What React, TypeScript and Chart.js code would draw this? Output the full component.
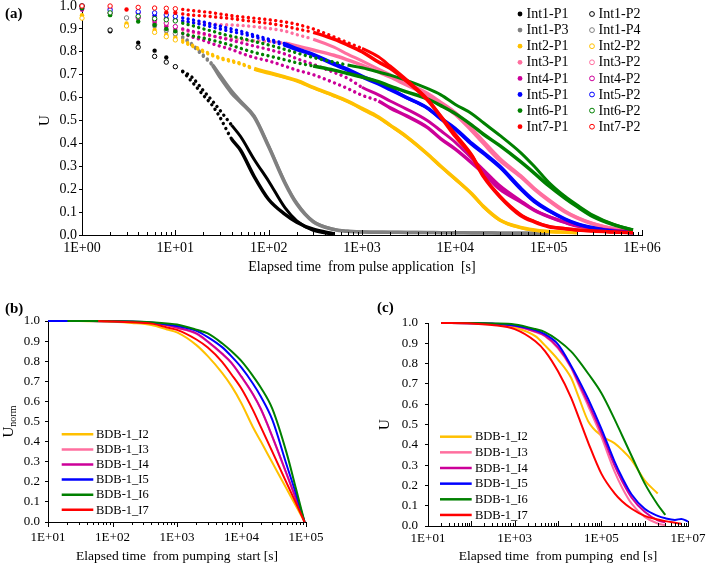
import React, { useEffect, useRef } from 'react';
import { Chart, registerables } from 'chart.js';

Chart.register(...registerables);

const FONT = "'Liberation Serif', 'Times New Roman', Times, serif";

// ================= Panel (a) data =================
const timesA = [1, 2, 3, 4, 6, 8, 10, 12, 15, 20, 25, 30, 40, 50, 70, 100, 150, 200, 300, 500, 700, 1000, 1500, 2000, 3000, 5000, 7000, 10000, 15000, 20000, 30000, 50000, 70000, 100000, 150000, 200000, 300000, 500000, 800000];

const int1P1 = [1.0, 0.89, null, 0.84, 0.805, 0.775, 0.735, 0.713, 0.67, 0.61, 0.565, 0.515, 0.42, 0.37, 0.255, 0.155, 0.09, 0.056, 0.025, 0.005, null, null, null, null, null, null, null, null, null, null, null, null, null, null, null, null, null, null, null];
const int1P2 = [1.0, 0.895, null, 0.82, 0.78, 0.755, 0.735, 0.715, 0.69, 0.63, 0.585, 0.545, 0.48, 0.43, 0.33, 0.235, 0.118, 0.062, 0.02, 0.004, null, null, null, null, null, null, null, null, null, null, null, null, null, null, null, null, null, null, null];
const int1P3 = [null, null, null, null, 0.91, 0.89, 0.875, 0.86, 0.83, 0.78, 0.74, 0.69, 0.62, 0.58, 0.515, 0.385, 0.225, 0.135, 0.058, 0.024, 0.016, 0.013, 0.012, 0.012, 0.011, 0.011, 0.01, 0.01, 0.009, 0.009, 0.008, 0.008, 0.008, 0.007, null, null, null, null, null];
const int1P4 = [null, null, 0.948, null, 0.918, 0.895, 0.88, 0.865, 0.835, 0.785, 0.745, 0.7, 0.63, 0.585, 0.52, 0.39, 0.23, 0.14, 0.06, 0.025, 0.017, 0.014, 0.013, 0.012, 0.012, 0.011, 0.011, 0.01, 0.01, 0.01, 0.009, 0.009, 0.008, 0.008, null, null, null, null, null];
const int2P1 = [0.96, null, 0.924, null, 0.895, 0.875, 0.862, 0.85, 0.83, 0.805, 0.788, 0.775, 0.762, 0.75, 0.727, 0.71, 0.69, 0.675, 0.645, 0.61, 0.585, 0.553, 0.515, 0.48, 0.43, 0.355, 0.3, 0.245, 0.18, 0.125, 0.066, 0.033, 0.022, 0.015, 0.012, 0.01, null, null, null];
const int2P2 = [0.947, null, 0.913, null, 0.885, 0.866, 0.852, 0.842, 0.825, 0.8, 0.783, 0.77, 0.757, 0.746, 0.724, 0.706, 0.687, 0.672, 0.642, 0.607, 0.582, 0.55, 0.512, 0.478, 0.428, 0.353, 0.298, 0.243, 0.178, 0.123, 0.065, 0.032, 0.021, 0.015, 0.012, 0.01, null, null, null];
const int3P1 = [0.985, 0.97, null, 0.955, 0.93, 0.915, 0.905, 0.895, 0.885, 0.875, 0.868, 0.862, 0.856, 0.852, 0.848, 0.845, 0.837, 0.826, 0.808, 0.785, 0.765, 0.742, 0.712, 0.69, 0.655, 0.612, 0.572, 0.527, 0.455, 0.4, 0.325, 0.255, 0.2, 0.15, 0.1, 0.075, 0.048, 0.027, 0.016];
const int3P2 = [0.995, 0.99, null, 0.97, 0.955, 0.945, 0.938, 0.933, 0.928, 0.924, 0.921, 0.919, 0.917, 0.915, 0.91, 0.902, 0.89, 0.875, 0.855, 0.82, 0.79, 0.76, 0.725, 0.7, 0.665, 0.62, 0.58, 0.535, 0.465, 0.41, 0.335, 0.26, 0.205, 0.155, 0.105, 0.078, 0.05, 0.028, 0.017];
const int4P1 = [0.985, 0.965, null, 0.945, 0.93, 0.91, 0.895, 0.88, 0.865, 0.85, 0.835, 0.825, 0.81, 0.795, 0.775, 0.76, 0.737, 0.72, 0.7, 0.665, 0.64, 0.61, 0.585, 0.555, 0.52, 0.47, 0.42, 0.375, 0.315, 0.27, 0.2, 0.145, 0.108, 0.08, 0.055, 0.04, 0.03, 0.02, 0.013];
const int4P2 = [1.0, 0.97, null, 0.95, 0.94, 0.925, 0.91, 0.9, 0.89, 0.88, 0.87, 0.862, 0.85, 0.84, 0.825, 0.81, 0.79, 0.77, 0.745, 0.71, 0.685, 0.645, 0.612, 0.585, 0.55, 0.5, 0.455, 0.405, 0.335, 0.285, 0.215, 0.15, 0.11, 0.08, 0.055, 0.04, 0.03, 0.02, 0.013];
const int5P1 = [0.99, 0.975, null, 0.97, 0.958, 0.945, 0.94, 0.935, 0.928, 0.918, 0.908, 0.9, 0.888, 0.88, 0.865, 0.848, 0.828, 0.81, 0.785, 0.745, 0.72, 0.69, 0.66, 0.635, 0.6, 0.555, 0.51, 0.465, 0.4, 0.36, 0.3, 0.205, 0.15, 0.108, 0.07, 0.05, 0.032, 0.016, 0.01];
const int5P2 = [1.0, 0.983, null, 0.975, 0.97, 0.961, 0.955, 0.948, 0.94, 0.93, 0.92, 0.912, 0.9, 0.89, 0.873, 0.855, 0.835, 0.815, 0.79, 0.75, 0.725, 0.695, 0.665, 0.64, 0.6, 0.555, 0.505, 0.46, 0.395, 0.355, 0.295, 0.2, 0.145, 0.105, 0.068, 0.048, 0.03, 0.015, 0.01];
const int6P1 = [0.99, 0.96, null, 0.932, 0.917, 0.9, 0.89, 0.88, 0.87, 0.86, 0.85, 0.842, 0.828, 0.815, 0.797, 0.782, 0.765, 0.752, 0.738, 0.72, 0.705, 0.69, 0.67, 0.65, 0.625, 0.595, 0.565, 0.53, 0.48, 0.44, 0.39, 0.32, 0.27, 0.215, 0.16, 0.125, 0.08, 0.044, 0.022];
const int6P2 = [1.0, 0.97, null, 0.955, 0.945, 0.94, 0.935, 0.925, 0.915, 0.9, 0.89, 0.88, 0.868, 0.86, 0.845, 0.83, 0.81, 0.795, 0.775, 0.755, 0.742, 0.73, 0.712, 0.698, 0.675, 0.64, 0.612, 0.57, 0.53, 0.49, 0.435, 0.36, 0.3, 0.23, 0.168, 0.132, 0.086, 0.046, 0.022];
const int7P1 = [1.0, null, 0.985, null, null, 0.972, 0.97, 0.965, 0.96, 0.957, 0.953, 0.95, 0.945, 0.939, 0.932, 0.924, 0.912, 0.9, 0.885, 0.855, 0.83, 0.8, 0.755, 0.728, 0.672, 0.59, 0.515, 0.43, 0.345, 0.255, 0.167, 0.085, 0.057, 0.036, 0.027, 0.022, 0.017, 0.013, 0.01];
const int7P2 = [1.0, 1.0, null, 0.994, 0.991, 0.99, 0.988, 0.985, 0.98, 0.975, 0.97, 0.965, 0.958, 0.953, 0.947, 0.94, 0.93, 0.92, 0.9, 0.865, 0.84, 0.815, 0.778, 0.738, 0.678, 0.595, 0.52, 0.44, 0.35, 0.26, 0.17, 0.09, 0.06, 0.038, 0.028, 0.022, 0.017, 0.013, 0.01];

const xTickLabelsA = ['1E+00', '1E+01', '1E+02', '1E+03', '1E+04', '1E+05', '1E+06'];
const yTickLabels = ['0.0', '0.1', '0.2', '0.3', '0.4', '0.5', '0.6', '0.7', '0.8', '0.9', '1.0'];
const xTitleA = 'Elapsed time  from pulse application  [s]';
const yTitleA = 'U';

// ================= Panel (b) data =================
const timesB = [10, 20, 30, 60, 100, 200, 400, 700, 1000, 2000, 3000, 5000, 7000, 10000, 15000, 20000, 30000, 50000, 70000, 95000];
const bI2 = [null, 1.0, 1.0, 0.998, 0.996, 0.99, 0.98, 0.958, 0.943, 0.88, 0.825, 0.742, 0.676, 0.59, 0.473, 0.4, 0.296, 0.165, 0.08, 0.0];
const bI3 = [null, null, null, null, null, null, 0.991, 0.979, 0.966, 0.936, 0.896, 0.836, 0.79, 0.721, 0.635, 0.56, 0.424, 0.238, 0.113, 0.0];
const bI4 = [null, null, null, null, 1.0, 0.996, 0.99, 0.98, 0.967, 0.938, 0.898, 0.838, 0.792, 0.723, 0.637, 0.562, 0.426, 0.24, 0.115, 0.0];
const bI5 = [1.0, 1.0, 1.0, 0.999, 0.999, 0.997, 0.992, 0.983, 0.975, 0.951, 0.92, 0.87, 0.824, 0.768, 0.689, 0.623, 0.509, 0.285, 0.14, 0.0];
const bI6 = [null, 1.0, 1.0, 1.0, 0.999, 0.998, 0.994, 0.988, 0.983, 0.957, 0.938, 0.889, 0.849, 0.8, 0.727, 0.668, 0.564, 0.344, 0.165, 0.0];
const bI7 = [null, null, null, 1.0, 0.998, 0.994, 0.987, 0.968, 0.956, 0.908, 0.868, 0.797, 0.734, 0.663, 0.558, 0.472, 0.35, 0.195, 0.094, 0.0];
const xTickLabelsB = ['1E+01', '1E+02', '1E+03', '1E+04', '1E+05'];
const xTitleB = 'Elapsed time  from pumping  start [s]';
const yTitleBMain = 'U';
const yTitleBSub = 'norm';

// ================= Panel (c) data =================
const timesC = [20, 100, 300, 1000, 3000, 5000, 10000, 20000, 30000, 50000, 100000, 200000, 300000, 500000, 1000000, 2000000, 3000000, 5000000, 7000000, 10000000];
const cI2 = [1.0, 0.999, 0.994, 0.978, 0.935, 0.89, 0.82, 0.73, 0.635, 0.515, 0.445, 0.408, 0.375, 0.325, 0.225, 0.16, null, null, null, null];
const cI3 = [1.0, 0.999, 0.996, 0.985, 0.955, 0.935, 0.875, 0.78, 0.695, 0.59, 0.44, 0.27, 0.19, 0.11, 0.045, 0.012, 0.004, null, null, null];
const cI4 = [1.0, 0.999, 0.996, 0.986, 0.958, 0.938, 0.88, 0.785, 0.705, 0.605, 0.46, 0.3, 0.222, 0.14, 0.07, 0.028, 0.018, null, null, null];
const cI5 = [1.0, 0.999, 0.997, 0.988, 0.965, 0.945, 0.895, 0.79, 0.72, 0.625, 0.48, 0.32, 0.24, 0.155, 0.085, 0.05, 0.038, 0.03, 0.035, 0.022];
const cI6 = [1.0, 1.0, 0.998, 0.993, 0.97, 0.955, 0.915, 0.86, 0.815, 0.75, 0.655, 0.528, 0.447, 0.345, 0.21, 0.105, 0.055, null, null, null];
const cI7 = [1.0, 0.998, 0.99, 0.97, 0.91, 0.862, 0.762, 0.632, 0.535, 0.41, 0.258, 0.162, 0.122, 0.085, 0.05, 0.032, 0.024, 0.016, 0.011, null];
const xTickLabelsC = ['1E+01', '1E+03', '1E+05', '1E+07'];
const xTitleC = 'Elapsed time  from pumping  end [s]';
const yTitleC = 'U';

const bdbLabels = ['BDB-1_I2', 'BDB-1_I3', 'BDB-1_I4', 'BDB-1_I5', 'BDB-1_I6', 'BDB-1_I7'];

// ================= styles =================
const C_BLACK = '#000000';
const C_GRAY = '#808080';
const C_ORANGE = '#FFC000';
const C_PINK = '#FF6F9F';
const C_MAGENTA = '#CC0099';
const C_BLUE = '#0000FF';
const C_GREEN = '#008000';
const C_RED = '#FF0000';

const seriesA = [
  { label: 'Int1-P1', values: int1P1, color: C_BLACK, filled: true, dense: 40 },
  { label: 'Int1-P2', values: int1P2, color: C_BLACK, filled: false, dense: 40 },
  { label: 'Int1-P3', values: int1P3, color: C_GRAY, filled: true, dense: 25 },
  { label: 'Int1-P4', values: int1P4, color: C_GRAY, filled: false, dense: 25 },
  { label: 'Int2-P1', values: int2P1, color: C_ORANGE, filled: true, dense: 60 },
  { label: 'Int2-P2', values: int2P2, color: C_ORANGE, filled: false, dense: 60 },
  { label: 'Int3-P1', values: int3P1, color: C_PINK, filled: true, dense: 120 },
  { label: 'Int3-P2', values: int3P2, color: C_PINK, filled: false, dense: 300 },
  { label: 'Int4-P1', values: int4P1, color: C_MAGENTA, filled: true, dense: 1500 },
  { label: 'Int4-P2', values: int4P2, color: C_MAGENTA, filled: false, dense: 1000 },
  { label: 'Int5-P1', values: int5P1, color: C_BLUE, filled: true, dense: 150 },
  { label: 'Int5-P2', values: int5P2, color: C_BLUE, filled: false, dense: 150 },
  { label: 'Int6-P1', values: int6P1, color: C_GREEN, filled: true, dense: 300 },
  { label: 'Int6-P2', values: int6P2, color: C_GREEN, filled: false, dense: 700 },
  { label: 'Int7-P1', values: int7P1, color: C_RED, filled: true, dense: 300 },
  { label: 'Int7-P2', values: int7P2, color: C_RED, filled: false, dense: 1000 },
];

const seriesB = [bI2, bI3, bI4, bI5, bI6, bI7];
const seriesC = [cI2, cI3, cI4, cI5, cI6, cI7];
const lineColors = [C_ORANGE, C_PINK, C_MAGENTA, C_BLUE, C_GREEN, C_RED];

const SPARSE_END = 12;

// ================= helpers =================
function logTickValues(min: number, max: number) {
  const out: number[] = [];
  const e0 = Math.round(Math.log10(min));
  for (let e = e0; Math.pow(10, e) <= max * 1.000001; e++) {
    for (let m = 1; m <= 9; m++) {
      const v = m * Math.pow(10, e);
      if (v >= min * 0.999999 && v <= max * 1.000001) out.push(v);
    }
  }
  return out;
}

function toPoints(times: number[], vals: (number | null)[]) {
  const pts: { x: number; y: number }[] = [];
  times.forEach((t, i) => {
    const v = vals[i];
    if (v !== null && v !== undefined) pts.push({ x: t, y: v });
  });
  return pts;
}

function xScale(labels: string[], o: any) {
  const min = Number(labels[0]);
  const max = Number(labels[labels.length - 1]);
  return {
    type: 'logarithmic',
    min,
    max,
    afterBuildTicks: (s: any) => {
      s.ticks = logTickValues(min, max).map((v) => ({ value: v }));
    },
    ticks: {
      autoSkip: false,
      maxRotation: 0,
      minRotation: 0,
      padding: o.padding,
      color: '#000',
      font: { family: FONT, size: o.size },
      callback: (v: number) => {
        const l = labels.find((lb) => Math.abs(Number(lb) - v) / v < 1e-6);
        return l === undefined ? '' : l;
      },
    },
    grid: { display: false, drawTicks: false },
    border: { display: true, color: '#000', width: 1 },
    title: {
      display: true,
      text: o.title,
      color: '#000',
      font: { family: FONT, size: o.titleSize },
      padding: { top: 0, bottom: o.titlePad },
    },
    afterFit: (s: any) => {
      s.height = o.height;
      s.paddingLeft = 0;
      s.paddingRight = 0;
    },
  };
}

function yScale(o: any) {
  return {
    type: 'linear',
    min: 0,
    max: 1,
    afterBuildTicks: (s: any) => {
      s.ticks = yTickLabels.map((l) => ({ value: Number(l) }));
    },
    ticks: {
      autoSkip: false,
      padding: o.padding,
      color: '#000',
      font: { family: FONT, size: o.size },
      callback: (v: number) => {
        const l = yTickLabels.find((lb) => Math.abs(Number(lb) - v) < 1e-9);
        return l === undefined ? '' : l;
      },
    },
    grid: { display: true, drawOnChartArea: false, drawTicks: true, tickLength: 3, color: '#000', tickColor: '#000' },
    border: { display: true, color: '#000', width: 1 },
    title: o.title
      ? {
          display: true,
          text: o.title,
          color: '#000',
          font: { family: FONT, size: o.titleSize },
          padding: { top: o.titlePad, bottom: 0 },
        }
      : { display: false },
    afterFit: (s: any) => {
      s.width = o.width;
      s.paddingTop = 0;
      s.paddingBottom = 0;
    },
  };
}

function xTickMarks(dir: number) {
  return {
    id: 'xTickMarks',
    afterDraw(chart: any) {
      const s = chart.scales.x;
      const ctx = chart.ctx;
      ctx.save();
      ctx.strokeStyle = '#000';
      ctx.lineWidth = 1;
      ctx.beginPath();
      s.ticks.forEach((t: any) => {
        const px = Math.round(s.getPixelForValue(t.value)) + 0.5;
        const lg = Math.log10(t.value);
        const major = Math.abs(lg - Math.round(lg)) < 1e-6;
        const len = major ? 5 : 3;
        ctx.moveTo(px, s.top);
        ctx.lineTo(px, s.top + dir * len);
      });
      ctx.stroke();
      ctx.restore();
    },
  };
}

const markerLegendA = {
  id: 'markerLegendA',
  afterDraw(chart: any) {
    const ctx = chart.ctx;
    ctx.save();
    ctx.font = `14px ${FONT}`;
    ctx.textBaseline = 'middle';
    chart.data.datasets.forEach((ds: any, i: number) => {
      const col = i % 2;
      const row = Math.floor(i / 2);
      const mx = col === 0 ? 520 : 592;
      const y = 14 + row * 16.1;
      ctx.beginPath();
      ctx.arc(mx, y, 2.4, 0, Math.PI * 2);
      ctx.fillStyle = ds.pointBackgroundColor;
      ctx.fill();
      if (ds.pointBorderWidth > 0) {
        ctx.lineWidth = 1;
        ctx.strokeStyle = ds.pointBorderColor;
        ctx.stroke();
      }
      ctx.fillStyle = '#000';
      ctx.fillText(ds.label, mx + 6.5, y + 0.5);
    });
    ctx.restore();
  },
};

function lineLegend(x0: number, x1: number, tx: number, y0: number, step: number, size: number) {
  return {
    id: 'lineLegend',
    afterDraw(chart: any) {
      const ctx = chart.ctx;
      ctx.save();
      ctx.font = `${size}px ${FONT}`;
      ctx.textBaseline = 'middle';
      chart.data.datasets.forEach((ds: any, i: number) => {
        const y = y0 + i * step;
        ctx.strokeStyle = ds.borderColor;
        ctx.lineWidth = 2.5;
        ctx.beginPath();
        ctx.moveTo(x0, y);
        ctx.lineTo(x1, y);
        ctx.stroke();
        ctx.fillStyle = '#000';
        ctx.fillText(ds.label, tx, y + 0.5);
      });
      ctx.restore();
    },
  };
}

const unormTitle = {
  id: 'unormTitle',
  afterDraw(chart: any) {
    const ctx = chart.ctx;
    const a = chart.chartArea;
    const cy = (a.top + a.bottom) / 2;
    const cx = 9;
    ctx.save();
    ctx.translate(cx, cy);
    ctx.rotate(-Math.PI / 2);
    ctx.fillStyle = '#000';
    ctx.textBaseline = 'middle';
    ctx.font = `15px ${FONT}`;
    const wU = ctx.measureText(yTitleBMain).width;
    ctx.font = `10px ${FONT}`;
    const wN = ctx.measureText(yTitleBSub).width;
    const start = -(wU + wN) / 2;
    ctx.font = `15px ${FONT}`;
    ctx.fillText(yTitleBMain, start, 0);
    ctx.font = `10px ${FONT}`;
    ctx.fillText(yTitleBSub, start + wU, 4);
    ctx.restore();
  },
};

// ================= configs =================
function configA(): any {
  const datasets = seriesA.map((s, i) => {
    const lw = s.filled ? 3.5 : 3;
    return {
      label: s.label,
      data: toPoints(timesA, s.values),
      showLine: true,
      clip: false,
      order: seriesA.length - i,
      borderColor: s.color,
      borderWidth: lw,
      cubicInterpolationMode: 'monotone',
      pointRadius: (c: any) => (c.raw && c.raw.x < SPARSE_END ? 2.2 : 0),
      pointBackgroundColor: s.filled ? s.color : '#ffffff',
      pointBorderColor: s.color,
      pointBorderWidth: s.filled ? 0 : 1,
      segment: {
        borderColor: (c: any) => (c.p0.parsed.x < SPARSE_END ? 'rgba(0,0,0,0)' : s.color),
        borderDash: (c: any) => (c.p0.parsed.x < s.dense ? [0.01, 5.5] : []),
        borderCapStyle: (c: any) => (c.p0.parsed.x < s.dense ? 'round' : 'butt'),
        borderWidth: (c: any) => (c.p0.parsed.x < s.dense ? 3.4 : lw),
      },
    };
  });
  return {
    type: 'scatter',
    data: { datasets },
    options: {
      responsive: false,
      maintainAspectRatio: false,
      animation: false,
      devicePixelRatio: 1,
      layout: { padding: { left: 0, top: 6, right: 67, bottom: 0 } },
      plugins: { legend: { display: false }, tooltip: { enabled: false } },
      scales: {
        x: xScale(xTickLabelsA, { padding: 5, size: 14, title: xTitleA, titleSize: 14, titlePad: 9, height: 50 }),
        y: yScale({ padding: 2, size: 14, title: yTitleA, titleSize: 15, titlePad: 36, width: 82 }),
      },
    },
    plugins: [xTickMarks(-1), markerLegendA],
  };
}

function lineConfig(times: number[], series: (number | null)[][], xLabels: string[], o: any, plugins: any[]): any {
  const datasets = series.map((vals, i) => ({
    label: bdbLabels[i],
    data: toPoints(times, vals),
    showLine: true,
    clip: false,
    order: series.length - i,
    borderColor: lineColors[i],
    borderWidth: 2,
    pointRadius: 0,
    cubicInterpolationMode: 'monotone',
  }));
  return {
    type: 'scatter',
    data: { datasets },
    options: {
      responsive: false,
      maintainAspectRatio: false,
      animation: false,
      devicePixelRatio: 1,
      layout: { padding: o.layoutPadding },
      plugins: { legend: { display: false }, tooltip: { enabled: false } },
      scales: {
        x: xScale(xLabels, o.x),
        y: yScale(o.y),
      },
    },
    plugins,
  };
}

function configB(): any {
  return lineConfig(
    timesB,
    seriesB,
    xTickLabelsB,
    {
      layoutPadding: { left: 0, top: 31, right: 44, bottom: 0 },
      x: { padding: 8, size: 13, title: xTitleB, titleSize: 13.5, titlePad: 5, height: 48 },
      y: { padding: 5, size: 13, title: null, width: 48 },
    },
    [xTickMarks(1), lineLegend(61.7, 93.3, 96, 144.3, 15.1, 12.5), unormTitle]
  );
}

function configC(): any {
  return lineConfig(
    timesC,
    seriesC,
    xTickLabelsC,
    {
      layoutPadding: { left: 0, top: 33, right: 21, bottom: 0 },
      x: { padding: 4.5, size: 13, title: xTitleC, titleSize: 13.5, titlePad: 5, height: 44 },
      y: { padding: 7, size: 13, title: yTitleC, titleSize: 15, titlePad: 26, width: 78 },
    },
    [xTickMarks(-1), lineLegend(90, 121.7, 125, 146.7, 15.65, 12.5)]
  );
}

const panelLabel: any = {
  position: 'absolute',
  fontFamily: FONT,
  fontWeight: 'bold',
  fontSize: '15px',
  lineHeight: '18px',
  color: '#000',
};

export default function App() {
  const refA = useRef<HTMLCanvasElement>(null);
  const refB = useRef<HTMLCanvasElement>(null);
  const refC = useRef<HTMLCanvasElement>(null);

  useEffect(() => {
    const charts = [
      new Chart(refA.current as HTMLCanvasElement, configA()),
      new Chart(refB.current as HTMLCanvasElement, configB()),
      new Chart(refC.current as HTMLCanvasElement, configC()),
    ];
    return () => charts.forEach((c) => c.destroy());
  }, []);

  return (
    <div style={{ position: 'absolute', left: 0, top: 0, width: 709, height: 570, background: '#fff', overflow: 'hidden' }}>
      <canvas ref={refA} width={709} height={285} style={{ position: 'absolute', left: 0, top: 0, width: 709, height: 285 }} />
      <canvas ref={refB} width={350} height={280} style={{ position: 'absolute', left: 0, top: 290, width: 350, height: 280 }} />
      <canvas ref={refC} width={359} height={280} style={{ position: 'absolute', left: 350, top: 290, width: 359, height: 280 }} />
      <div style={{ ...panelLabel, left: 5, top: 4 }}>(a)</div>
      <div style={{ ...panelLabel, left: 5, top: 299 }}>(b)</div>
      <div style={{ ...panelLabel, left: 377, top: 298 }}>(c)</div>
    </div>
  );
}
